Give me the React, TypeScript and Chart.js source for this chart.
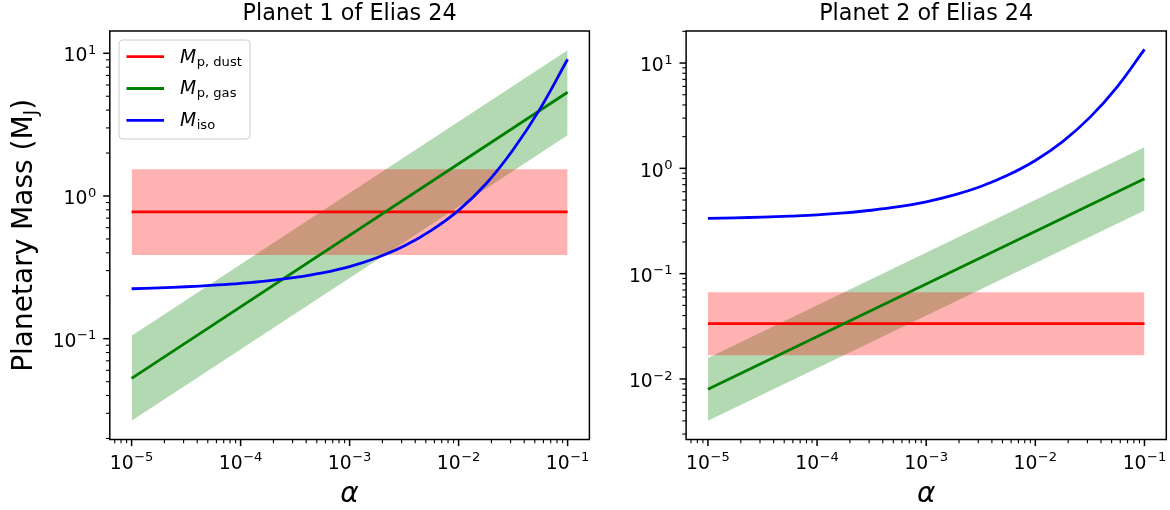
import React, { useEffect, useRef } from "react";
import { Chart, registerables } from "chart.js";

Chart.register(...registerables);

// ---------- data ----------
const ALPHA_ENDS = [1e-5, 1e-1];
const ALPHA_GRID = [
  1e-5, 1.778e-5, 3.162e-5, 5.623e-5, 1e-4, 1.778e-4, 3.162e-4, 5.623e-4, 1e-3,
  1.778e-3, 3.162e-3, 5.623e-3, 1e-2, 1.778e-2, 3.162e-2, 5.623e-2, 1e-1,
];

const P1_DUST = [0.773, 0.773];
const P1_DUST_LO = [0.386, 0.386];
const P1_DUST_HI = [1.54, 1.54];
const P1_GAS = [0.0527, 5.33];
const P1_GAS_LO = [0.0266, 2.66];
const P1_GAS_HI = [0.105, 10.5];
const P1_ISO = [
  0.2239, 0.227, 0.2312, 0.2371, 0.2443, 0.2541, 0.2685, 0.2891, 0.3199, 0.369,
  0.4457, 0.5741, 0.7925, 1.213, 2.109, 4.111, 9.078,
];

const P2_DUST = [0.0335, 0.0335];
const P2_DUST_LO = [0.0168, 0.0168];
const P2_DUST_HI = [0.0666, 0.0666];
const P2_GAS = [0.00798, 0.796];
const P2_GAS_LO = [0.00402, 0.398];
const P2_GAS_HI = [0.0158, 1.59];
const P2_ISO = [
  0.335, 0.339, 0.344, 0.352, 0.362, 0.378, 0.4, 0.432, 0.481, 0.556, 0.673,
  0.863, 1.186, 1.795, 3.048, 5.943, 13.49,
];

const X_RANGE = [6.31e-6, 0.1585];
const P1_Y_RANGE = [0.01966, 14.33];
const P2_Y_RANGE = [0.002663, 20.14];
const X_TICK_EXPONENTS = [-5, -4, -3, -2, -1];
const P1_Y_TICK_EXPONENTS = [-1, 0, 1];
const P2_Y_TICK_EXPONENTS = [-2, -1, 0, 1];

const TITLES = ["Planet 1 of Elias 24", "Planet 2 of Elias 24"];
const LEGEND_MAIN = ["M", "M", "M"];
const LEGEND_SUB = ["p, dust", "p, gas", "iso"];
const LEGEND_COLORS = ["#ff0000", "#008000", "#0000ff"];
const Y_LABEL_MAIN = "Planetary Mass (M";
const Y_LABEL_SUB = "J";
const X_LABEL = "\u03b1";

// ---------- styling ----------
const W = 1170;
const H = 510;
const FONT = '"DejaVu Sans", "Liberation Sans", sans-serif';
const TICK_FS = 18.75;
const SUP_FS = 13.1;

type Planet = {
  title: string;
  dust: number[];
  dustLo: number[];
  dustHi: number[];
  gas: number[];
  gasLo: number[];
  gasHi: number[];
  iso: number[];
  yRange: number[];
  yTicks: number[];
  area: { left: number; right: number; top: number; bottom: number };
  first: boolean;
};

const PLANETS: Planet[] = [
  {
    title: TITLES[0],
    dust: P1_DUST,
    dustLo: P1_DUST_LO,
    dustHi: P1_DUST_HI,
    gas: P1_GAS,
    gasLo: P1_GAS_LO,
    gasHi: P1_GAS_HI,
    iso: P1_ISO,
    yRange: P1_Y_RANGE,
    yTicks: P1_Y_TICK_EXPONENTS,
    area: { left: 109.8, right: 589.4, top: 31, bottom: 439.5 },
    first: true,
  },
  {
    title: TITLES[1],
    dust: P2_DUST,
    dustLo: P2_DUST_LO,
    dustHi: P2_DUST_HI,
    gas: P2_GAS,
    gasLo: P2_GAS_LO,
    gasHi: P2_GAS_HI,
    iso: P2_ISO,
    yRange: P2_Y_RANGE,
    yTicks: P2_Y_TICK_EXPONENTS,
    area: { left: 686.1, right: 1166.3, top: 31, bottom: 439.5 },
    first: false,
  },
];

const pts = (xs: number[], ys: number[]) => xs.map((x, i) => ({ x, y: ys[i] }));

function powLabel(
  ctx: CanvasRenderingContext2D,
  exp: number,
  x: number,
  baseline: number,
  align: "center" | "right"
) {
  const base = "10";
  const sup = exp < 0 ? "\u2212" + Math.abs(exp) : String(exp);
  ctx.font = `${TICK_FS}px ${FONT}`;
  const wb = ctx.measureText(base).width;
  ctx.font = `${SUP_FS}px ${FONT}`;
  const ws = ctx.measureText(sup).width;
  const total = wb + ws + 0.5;
  const start = align === "center" ? x - total / 2 : x - total;
  ctx.textAlign = "left";
  ctx.textBaseline = "alphabetic";
  ctx.fillStyle = "#000";
  ctx.font = `${TICK_FS}px ${FONT}`;
  ctx.fillText(base, start, baseline);
  ctx.font = `${SUP_FS}px ${FONT}`;
  ctx.fillText(sup, start + wb + 0.5, baseline - 7.6);
}

function logTicks(min: number, max: number) {
  const out: { v: number; major: boolean; exp: number }[] = [];
  const e0 = Math.floor(Math.log10(min));
  const e1 = Math.ceil(Math.log10(max));
  for (let e = e0; e <= e1; e++) {
    for (let m = 1; m <= 9; m++) {
      const v = m * Math.pow(10, e);
      if (v < min * 0.999999 || v > max * 1.000001) continue;
      out.push({ v, major: m === 1, exp: e });
    }
  }
  return out;
}

function makeDecor(p: Planet) {
  return {
    id: "decor" + (p.first ? "1" : "2"),
    afterDraw(chart: any) {
      const ctx: CanvasRenderingContext2D = chart.ctx;
      const a = chart.chartArea;
      const xs = chart.scales.x;
      const ys = chart.scales.y;
      ctx.save();

      // ticks
      ctx.strokeStyle = "#000";
      for (const t of logTicks(X_RANGE[0], X_RANGE[1])) {
        const px = xs.getPixelForValue(t.v);
        ctx.lineWidth = t.major ? 1.5 : 1.1;
        ctx.beginPath();
        ctx.moveTo(px, a.bottom);
        ctx.lineTo(px, a.bottom + (t.major ? 6.6 : 3.8));
        ctx.stroke();
      }
      for (const t of logTicks(p.yRange[0], p.yRange[1])) {
        const py = ys.getPixelForValue(t.v);
        ctx.lineWidth = t.major ? 1.5 : 1.1;
        ctx.beginPath();
        ctx.moveTo(a.left, py);
        ctx.lineTo(a.left - (t.major ? 6.6 : 3.8), py);
        ctx.stroke();
      }

      // spines
      ctx.lineWidth = 1.5;
      ctx.strokeRect(a.left, a.top, a.right - a.left, a.bottom - a.top);

      // tick labels
      for (const e of X_TICK_EXPONENTS) {
        const px = xs.getPixelForValue(Math.pow(10, e));
        powLabel(ctx, e, px, a.bottom + 29, "center");
      }
      for (const e of p.yTicks) {
        const py = ys.getPixelForValue(Math.pow(10, e));
        powLabel(ctx, e, a.left - 13.5, py + 8.2, "right");
      }

      const cx = (a.left + a.right) / 2;
      // title
      ctx.fillStyle = "#000";
      ctx.textAlign = "center";
      ctx.textBaseline = "alphabetic";
      ctx.font = `22.3px ${FONT}`;
      ctx.fillText(p.title, cx, 19.8);

      // x label
      ctx.font = `italic 28px ${FONT}`;
      ctx.fillText(X_LABEL, cx, 502);

      if (p.first) {
        // y label
        ctx.save();
        const cy = (a.top + a.bottom) / 2;
        ctx.translate(32, cy);
        ctx.rotate(-Math.PI / 2);
        ctx.font = `28px ${FONT}`;
        const w1 = ctx.measureText(Y_LABEL_MAIN).width;
        const w3 = ctx.measureText(")").width;
        ctx.font = `19.6px ${FONT}`;
        const w2 = ctx.measureText(Y_LABEL_SUB).width;
        const total = w1 + w2 + w3;
        let sx = -total / 2;
        ctx.textAlign = "left";
        ctx.font = `28px ${FONT}`;
        ctx.fillText(Y_LABEL_MAIN, sx, 0);
        sx += w1;
        ctx.font = `19.6px ${FONT}`;
        ctx.fillText(Y_LABEL_SUB, sx, 4.5);
        sx += w2;
        ctx.font = `28px ${FONT}`;
        ctx.fillText(")", sx, 0);
        ctx.restore();

        // legend
        const bx = 119,
          by = 40,
          bw = 131,
          bh = 99,
          r = 3.75;
        ctx.beginPath();
        ctx.moveTo(bx + r, by);
        ctx.lineTo(bx + bw - r, by);
        ctx.arcTo(bx + bw, by, bx + bw, by + r, r);
        ctx.lineTo(bx + bw, by + bh - r);
        ctx.arcTo(bx + bw, by + bh, bx + bw - r, by + bh, r);
        ctx.lineTo(bx + r, by + bh);
        ctx.arcTo(bx, by + bh, bx, by + bh - r, r);
        ctx.lineTo(bx, by + r);
        ctx.arcTo(bx, by, bx + r, by, r);
        ctx.closePath();
        ctx.fillStyle = "rgba(255,255,255,0.8)";
        ctx.fill();
        ctx.strokeStyle = "#cccccc";
        ctx.lineWidth = 1;
        ctx.stroke();

        for (let i = 0; i < LEGEND_SUB.length; i++) {
          const ry = 56.7 + i * 31.8;
          ctx.strokeStyle = LEGEND_COLORS[i];
          ctx.lineWidth = 2.8;
          ctx.lineCap = "butt";
          ctx.beginPath();
          ctx.moveTo(126.5, ry);
          ctx.lineTo(164, ry);
          ctx.stroke();
          ctx.fillStyle = "#000";
          ctx.textAlign = "left";
          ctx.font = `italic ${TICK_FS}px ${FONT}`;
          ctx.fillText(LEGEND_MAIN[i], 180, ry + 5.8);
          const wm = ctx.measureText(LEGEND_MAIN[i]).width;
          ctx.font = `${SUP_FS}px ${FONT}`;
          ctx.fillText(LEGEND_SUB[i], 180 + wm + 0.5, ry + 8.8);
        }
      }
      ctx.restore();
    },
  };
}

function buildConfig(p: Planet): any {
  const band = { borderColor: "transparent", borderWidth: 0, pointRadius: 0 };
  return {
    type: "line",
    data: {
      datasets: [
        { ...band, data: pts(ALPHA_ENDS, p.dustLo), fill: false, order: 5 },
        {
          ...band,
          data: pts(ALPHA_ENDS, p.dustHi),
          fill: "-1",
          backgroundColor: "rgba(255,0,0,0.3)",
          order: 4,
        },
        { ...band, data: pts(ALPHA_ENDS, p.gasLo), fill: false, order: 7 },
        {
          ...band,
          data: pts(ALPHA_ENDS, p.gasHi),
          fill: "-1",
          backgroundColor: "rgba(0,128,0,0.3)",
          order: 6,
        },
        {
          data: pts(ALPHA_ENDS, p.dust),
          borderColor: "#ff0000",
          borderWidth: 2.8,
          pointRadius: 0,
          fill: false,
          order: 3,
        },
        {
          data: pts(ALPHA_ENDS, p.gas),
          borderColor: "#008000",
          borderWidth: 2.8,
          pointRadius: 0,
          fill: false,
          order: 2,
        },
        {
          data: pts(ALPHA_GRID, p.iso),
          borderColor: "#0000ff",
          borderWidth: 2.8,
          pointRadius: 0,
          fill: false,
          tension: 0.4,
          order: 1,
        },
      ],
    },
    options: {
      responsive: false,
      animation: false,
      events: [],
      layout: {
        padding: {
          left: p.area.left,
          right: W - p.area.right,
          top: p.area.top,
          bottom: H - p.area.bottom,
        },
      },
      scales: {
        x: {
          type: "logarithmic",
          display: false,
          bounds: "data",
          min: X_RANGE[0],
          max: X_RANGE[1],
        },
        y: {
          type: "logarithmic",
          display: false,
          bounds: "data",
          min: p.yRange[0],
          max: p.yRange[1],
        },
      },
      plugins: {
        legend: { display: false },
        tooltip: { enabled: false },
        title: { display: false },
        filler: { drawTime: "beforeDatasetsDraw" },
      },
    },
    plugins: [makeDecor(p)],
  };
}

function PlanetCanvas({ p }: { p: Planet }) {
  const ref = useRef<HTMLCanvasElement | null>(null);
  useEffect(() => {
    if (!ref.current) return;
    const chart = new Chart(ref.current, buildConfig(p));
    return () => chart.destroy();
  }, [p]);
  return (
    <canvas
      ref={ref}
      width={W}
      height={H}
      style={{ position: "absolute", left: 0, top: 0, width: W, height: H }}
    />
  );
}

export default function App() {
  return (
    <div
      style={{
        position: "absolute",
        left: 0,
        top: 0,
        width: W,
        height: H,
        background: "#ffffff",
      }}
    >
      {PLANETS.map((p, i) => (
        <PlanetCanvas key={i} p={p} />
      ))}
    </div>
  );
}
